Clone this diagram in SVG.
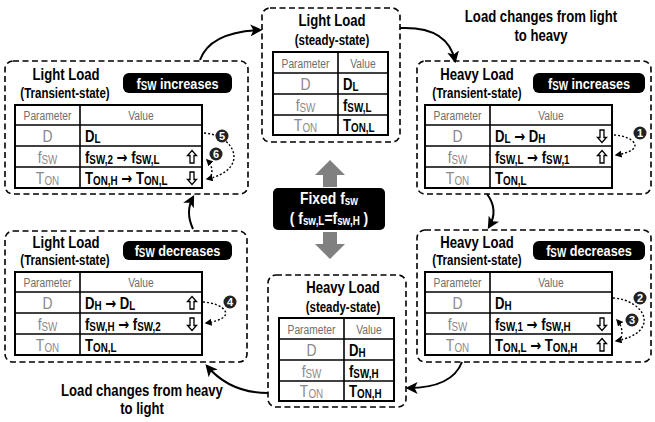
<svg xmlns="http://www.w3.org/2000/svg" width="655" height="422" viewBox="0 0 655 422">
  <style>
    text { font-family: "Liberation Sans", Arial, sans-serif; }
    .box { fill: none; stroke: #000; stroke-width: 1.6; stroke-dasharray: 6 3.5; }
    .tbl { fill: #fff; stroke: #000; stroke-width: 2; }
    .ln { stroke: #000; stroke-width: 1.6; }
    .h1 { font-size: 16px; font-weight: bold; text-anchor: middle; fill: #000; }
    .h2 { font-size: 14px; font-weight: bold; text-anchor: middle; fill: #000; }
    .ph { font-size: 12.5px; text-anchor: middle; fill: #6e6e6e; }
    .pv { font-size: 17px; text-anchor: middle; fill: #8a8a8a; }
    .v { font-size: 16px; font-weight: bold; fill: #000; }
    .sub { font-size: 12px; }
    .ar { font-family: "DejaVu Sans", sans-serif; font-size: 16px; font-weight: bold; }
    .ud { fill: #fff; stroke: #000; stroke-width: 1.3; stroke-linejoin: miter; }
    .pill { fill: #000; }
    .pt { font-size: 15.5px; font-weight: bold; fill: #fff; text-anchor: middle; }
    .ct { font-size: 17px; font-weight: bold; fill: #fff; text-anchor: middle; }
    .bd { fill: #222; }
    .bt { font-size: 11px; font-weight: bold; fill: #fff; text-anchor: middle; }
    .dot { fill: none; stroke: #000; stroke-width: 1.4; stroke-dasharray: 2 2; marker-end: url(#sm); }
    .con { fill: none; stroke: #000; stroke-width: 2; marker-end: url(#big); }
    .gray { fill: #808080; }
    .note { font-size: 16px; font-weight: bold; text-anchor: middle; fill: #000; }
  </style>
  <defs>
    <marker id="big" viewBox="0 0 10 10" refX="8" refY="5" markerWidth="6" markerHeight="6" markerUnits="strokeWidth" orient="auto">
      <path d="M0,0 L10,5 L0,10 L2.5,5 Z" fill="#000"/>
    </marker>
    <marker id="sm" viewBox="0 0 10 10" refX="8" refY="5" markerWidth="5" markerHeight="5" markerUnits="strokeWidth" orient="auto">
      <path d="M0,0 L10,5 L0,10 Z" fill="#000"/>
    </marker>
    <!-- hollow up / down arrows, centred on the origin -->
    <path id="up" class="ud" d="M0,-6.5 L4.5,-1.5 L2,-1.5 L2,6 L-2,6 L-2,-1.5 L-4.5,-1.5 Z"/>
    <path id="down" class="ud" d="M0,6.5 L4.5,1.5 L2,1.5 L2,-6 L-2,-6 L-2,1.5 L-4.5,1.5 Z"/>
    <!-- transient-state table frame: 187 x 83 -->
    <g id="tframe">
      <rect class="tbl" x="0" y="0" width="187" height="83"/>
      <line class="ln" x1="65" y1="0" x2="65" y2="83"/>
      <line class="ln" x1="0" y1="20" x2="187" y2="20"/>
      <line class="ln" x1="0" y1="41" x2="187" y2="41"/>
      <line class="ln" x1="0" y1="62" x2="187" y2="62"/>
      <text class="ph" transform="translate(32.5,15) scale(.82,1)">Parameter</text>
      <text class="ph" transform="translate(126,15) scale(.82,1)">Value</text>
      <text class="pv" transform="translate(32.5,37) scale(.82,1)">D</text>
      <text class="pv" transform="translate(32.5,58) scale(.82,1)">f<tspan class="sub" dy="1">SW</tspan></text>
      <text class="pv" transform="translate(32.5,79) scale(.82,1)">T<tspan class="sub" dy="1">ON</tspan></text>
    </g>
    <!-- steady-state table frame: 115 x 83 -->
    <g id="sframe">
      <rect class="tbl" x="0" y="0" width="115" height="83"/>
      <line class="ln" x1="65" y1="0" x2="65" y2="83"/>
      <line class="ln" x1="0" y1="21" x2="115" y2="21"/>
      <line class="ln" x1="0" y1="42" x2="115" y2="42"/>
      <line class="ln" x1="0" y1="63" x2="115" y2="63"/>
      <text class="ph" transform="translate(32.5,16) scale(.82,1)">Parameter</text>
      <text class="ph" transform="translate(90,16) scale(.82,1)">Value</text>
      <text class="pv" transform="translate(32.5,37.5) scale(.82,1)">D</text>
      <text class="pv" transform="translate(32.5,58.5) scale(.82,1)">f<tspan class="sub" dy="1">SW</tspan></text>
      <text class="pv" transform="translate(32.5,79) scale(.82,1)">T<tspan class="sub" dy="1">ON</tspan></text>
    </g>
  </defs>

  <!-- connectors between states -->
  <g id="connectors">
    <path class="con" d="M200,60 Q210,32 260,30"/>
    <path class="con" d="M400,28 Q448,26 455,61"/>
    <path class="con" d="M487,194 Q499,210 489,227"/>
    <path class="con" d="M462,362 Q452,388 408,388"/>
    <path class="con" d="M268,393 C245,393 224,386 207,366"/>
    <path class="con" d="M193,229 Q185,212 193,197"/>
    <text class="note" transform="translate(541,22) scale(.82,1)">Load changes from light</text>
    <text class="note" transform="translate(541,41) scale(.82,1)">to heavy</text>
    <text class="note" transform="translate(142,396) scale(.82,1)">Load changes from heavy</text>
    <text class="note" transform="translate(142,414) scale(.82,1)">to light</text>
  </g>

  <!-- centre: fixed switching frequency -->
  <g id="fixed">
    <path class="gray" d="M330,160 L345,175 L337,175 L337,187 L323,187 L323,175 L315,175 Z"/>
    <path class="gray" d="M330,259 L345,244 L337,244 L337,232 L323,232 L323,244 L315,244 Z"/>
    <rect x="273" y="188" width="112" height="42" rx="5" fill="#000"/>
    <text class="ct" transform="translate(329,204) scale(.82,1)">Fixed f<tspan class="sub" dy="1">sw</tspan></text>
    <text class="ct" transform="translate(329,224) scale(.82,1)">( f<tspan class="sub" dy="1">sw,L</tspan><tspan dy="-1">=f</tspan><tspan class="sub" dy="1">sw,H</tspan><tspan dy="-1"> )</tspan></text>
  </g>

  <!-- Light load, steady-state -->
  <g id="light-steady">
    <rect class="box" x="262" y="8" width="138" height="134" rx="8"/>
    <text class="h1" transform="translate(332,26) scale(.82,1)">Light Load</text>
    <text class="h2" transform="translate(332,45) scale(.82,1)">(steady-state)</text>
    <g transform="translate(273,52)">
      <use href="#sframe"/>
      <text class="v" transform="translate(70,37.5) scale(.82,1)">D<tspan class="sub" dy="1">L</tspan></text>
      <text class="v" transform="translate(70,58.5) scale(.82,1)">f<tspan class="sub" dy="1">SW,L</tspan></text>
      <text class="v" transform="translate(70,79) scale(.82,1)">T<tspan class="sub" dy="1">ON,L</tspan></text>
    </g>
  </g>

  <!-- Heavy load, transient, fsw increases -->
  <g id="heavy-transient-up">
    <rect class="box" x="417" y="61" width="234" height="133" rx="8"/>
    <text class="h1" transform="translate(477,80) scale(.82,1)">Heavy Load</text>
    <text class="h2" transform="translate(477,98) scale(.82,1)">(Transient-state)</text>
    <rect class="pill" x="533" y="73" width="112" height="20" rx="6"/>
    <text class="pt" transform="translate(589,89) scale(.82,1)">f<tspan class="sub" dy="1">SW</tspan><tspan dy="-1"> increases</tspan></text>
    <g transform="translate(425,105)">
      <use href="#tframe"/>
      <text class="v" transform="translate(70,37) scale(.82,1)">D<tspan class="sub" dy="1">L</tspan><tspan dy="-1"> <tspan class="ar">→</tspan> D</tspan><tspan class="sub" dy="1">H</tspan></text>
      <text class="v" transform="translate(70,58) scale(.82,1)">f<tspan class="sub" dy="1">SW,L</tspan><tspan dy="-1"> <tspan class="ar">→</tspan> f</tspan><tspan class="sub" dy="1">SW,1</tspan></text>
      <text class="v" transform="translate(70,79) scale(.82,1)">T<tspan class="sub" dy="1">ON,L</tspan></text>
      <use href="#down" x="177" y="31"/>
      <use href="#up" x="177" y="52"/>
    </g>
    <path class="dot" d="M614,135 C634,136 648,150 616,155"/>
    <circle class="bd" cx="640" cy="133" r="6.5"/>
    <text class="bt" x="640" y="137">1</text>
  </g>

  <!-- Heavy load, transient, fsw decreases -->
  <g id="heavy-transient-down">
    <rect class="box" x="417" y="230" width="234" height="132" rx="8"/>
    <text class="h1" transform="translate(477,248) scale(.82,1)">Heavy Load</text>
    <text class="h2" transform="translate(477,265) scale(.82,1)">(Transient-state)</text>
    <rect class="pill" x="533" y="241" width="112" height="19" rx="6"/>
    <text class="pt" transform="translate(589,256) scale(.82,1)">f<tspan class="sub" dy="1">SW</tspan><tspan dy="-1"> decreases</tspan></text>
    <g transform="translate(425,272)">
      <use href="#tframe"/>
      <text class="v" transform="translate(70,37) scale(.82,1)">D<tspan class="sub" dy="1">H</tspan></text>
      <text class="v" transform="translate(70,58) scale(.82,1)">f<tspan class="sub" dy="1">SW,1</tspan><tspan dy="-1"> <tspan class="ar">→</tspan> f</tspan><tspan class="sub" dy="1">SW,H</tspan></text>
      <text class="v" transform="translate(70,79) scale(.82,1)">T<tspan class="sub" dy="1">ON,L</tspan><tspan dy="-1"> <tspan class="ar">→</tspan> T</tspan><tspan class="sub" dy="1">ON,H</tspan></text>
      <use href="#down" x="177" y="52"/>
      <use href="#up" x="177" y="73"/>
    </g>
    <path class="dot" d="M613,298 C645,300 662,332 616,341"/>
    <path class="dot" d="M621,338 Q624,328 617,320"/>
    <circle class="bd" cx="640" cy="298" r="6.5"/>
    <text class="bt" x="640" y="302">2</text>
    <circle class="bd" cx="632" cy="320" r="6.5"/>
    <text class="bt" x="632" y="324">3</text>
  </g>

  <!-- Heavy load, steady-state -->
  <g id="heavy-steady">
    <rect class="box" x="268" y="275" width="138" height="132" rx="8"/>
    <text class="h1" transform="translate(343,293) scale(.82,1)">Heavy Load</text>
    <text class="h2" transform="translate(343,312) scale(.82,1)">(steady-state)</text>
    <g transform="translate(279,318)">
      <use href="#sframe"/>
      <text class="v" transform="translate(70,37.5) scale(.82,1)">D<tspan class="sub" dy="1">H</tspan></text>
      <text class="v" transform="translate(70,58.5) scale(.82,1)">f<tspan class="sub" dy="1">SW,H</tspan></text>
      <text class="v" transform="translate(70,79) scale(.82,1)">T<tspan class="sub" dy="1">ON,H</tspan></text>
    </g>
  </g>

  <!-- Light load, transient, fsw decreases -->
  <g id="light-transient-down">
    <rect class="box" x="5" y="231" width="242" height="131" rx="8"/>
    <text class="h1" transform="translate(66,248) scale(.82,1)">Light Load</text>
    <text class="h2" transform="translate(65,265) scale(.82,1)">(Transient-state)</text>
    <rect class="pill" x="123" y="241" width="109" height="19" rx="6"/>
    <text class="pt" transform="translate(177.5,256) scale(.82,1)">f<tspan class="sub" dy="1">SW</tspan><tspan dy="-1"> decreases</tspan></text>
    <g transform="translate(15,272)">
      <use href="#tframe"/>
      <text class="v" transform="translate(70,37) scale(.82,1)">D<tspan class="sub" dy="1">H</tspan><tspan dy="-1"> <tspan class="ar">→</tspan> D</tspan><tspan class="sub" dy="1">L</tspan></text>
      <text class="v" transform="translate(70,58) scale(.82,1)">f<tspan class="sub" dy="1">SW,H</tspan><tspan dy="-1"> <tspan class="ar">→</tspan> f</tspan><tspan class="sub" dy="1">SW,2</tspan></text>
      <text class="v" transform="translate(70,79) scale(.82,1)">T<tspan class="sub" dy="1">ON,L</tspan></text>
      <use href="#up" x="177" y="31"/>
      <use href="#down" x="177" y="52"/>
    </g>
    <path class="dot" d="M203,302 C224,303 240,318 206,323"/>
    <circle class="bd" cx="230" cy="302" r="6.5"/>
    <text class="bt" x="230" y="306">4</text>
  </g>

  <!-- Light load, transient, fsw increases -->
  <g id="light-transient-up">
    <rect class="box" x="5" y="61" width="243" height="133" rx="8"/>
    <text class="h1" transform="translate(66,80) scale(.82,1)">Light Load</text>
    <text class="h2" transform="translate(65,98) scale(.82,1)">(Transient-state)</text>
    <rect class="pill" x="123" y="73" width="109" height="20" rx="6"/>
    <text class="pt" transform="translate(177.5,89) scale(.82,1)">f<tspan class="sub" dy="1">SW</tspan><tspan dy="-1"> increases</tspan></text>
    <g transform="translate(15,105)">
      <use href="#tframe"/>
      <text class="v" transform="translate(70,37) scale(.82,1)">D<tspan class="sub" dy="1">L</tspan></text>
      <text class="v" transform="translate(70,58) scale(.82,1)">f<tspan class="sub" dy="1">SW,2</tspan><tspan dy="-1"> <tspan class="ar">→</tspan> f</tspan><tspan class="sub" dy="1">SW,L</tspan></text>
      <text class="v" transform="translate(70,79) scale(.82,1)">T<tspan class="sub" dy="1">ON,H</tspan><tspan dy="-1"> <tspan class="ar">→</tspan> T</tspan><tspan class="sub" dy="1">ON,L</tspan></text>
      <use href="#up" x="177" y="52"/>
      <use href="#down" x="177" y="73"/>
    </g>
    <path class="dot" d="M204,133 C236,135 250,170 207,179"/>
    <path class="dot" d="M211,176 Q214,167 207,160"/>
    <circle class="bd" cx="222" cy="136" r="6.5"/>
    <text class="bt" x="222" y="140">5</text>
    <circle class="bd" cx="216" cy="154" r="6.5"/>
    <text class="bt" x="216" y="158">6</text>
  </g>
</svg>
